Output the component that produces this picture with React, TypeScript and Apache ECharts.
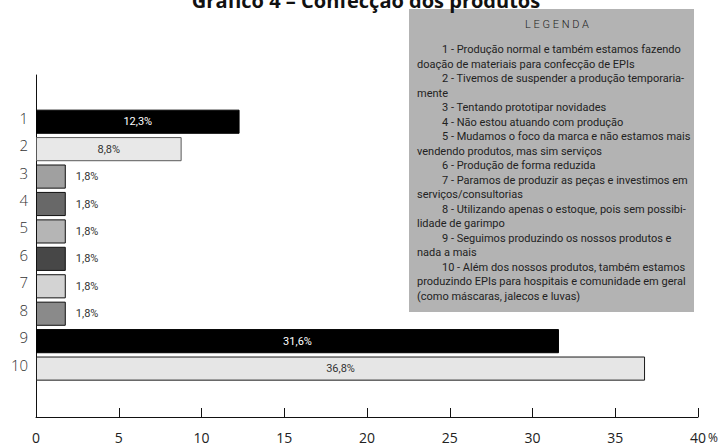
import React, { useEffect, useRef } from "react";
import * as echarts from "echarts";

// Survey answers: share of respondents per option (%)
const categories = ["1", "2", "3", "4", "5", "6", "7", "8", "9", "10"];
const values = [12.3, 8.8, 1.8, 1.8, 1.8, 1.8, 1.8, 1.8, 31.6, 36.8];
const barColors = ["#000000", "#e8e8e8", "#a0a0a0", "#686868", "#b5b5b5", "#474747", "#d3d3d3", "#8a8a8a", "#000000", "#e6e6e6"];
const borderColors = ["#000000", "#5a5a5a", "#111111", "#111111", "#111111", "#111111", "#111111", "#111111", "#000000", "#1a1a1a"];
const labelColors = ["#ffffff", "#333333", "#333333", "#333333", "#333333", "#333333", "#333333", "#333333", "#ffffff", "#333333"];
const xTicks = { min: 0, max: 40, interval: 5 };
const xUnit = "%";

const title = "Gráfico 4 – Confecção dos produtos";
const legendTitle = "L E G E N D A";
// Each legend entry: first line indented, continuation lines flush left
const legendEntries: string[][] = [
  ["1 - Produção normal e também estamos fazendo", "doação de materiais para confecção de EPIs"],
  ["2 - Tivemos de suspender a produção temporaria-", "mente"],
  ["3 - Tentando prototipar novidades"],
  ["4 - Não estou atuando com produção"],
  ["5 - Mudamos o foco da marca e não estamos mais", "vendendo produtos, mas sim serviços"],
  ["6 - Produção de forma reduzida"],
  ["7 - Paramos de produzir as peças e investimos em", "serviços/consultorias"],
  ["8 - Utilizando apenas o estoque, pois sem possibi-", "lidade de garimpo"],
  ["9 - Seguimos produzindo os nossos produtos e", "nada a mais"],
  ["10 - Além dos nossos produtos, também estamos", "produzindo EPIs para hospitais e comunidade em geral", "(como máscaras, jalecos e luvas)"],
];

const fmt = (v: number) => v.toFixed(1).replace(".", ",") + "%";

export default function App() {
  const ref = useRef<HTMLDivElement>(null);

  useEffect(() => {
    document.body.style.margin = "0";
    if (!ref.current) return;
    const chart = echarts.init(ref.current, null, { renderer: "svg" });

    const legendFont = "Roboto, 'Noto Sans', sans-serif";
    const legendLines: any[] = [];
    let row = 0;
    legendEntries.forEach((entry) => {
      entry.forEach((line, j) => {
        legendLines.push({
          type: "text",
          x: j === 0 ? 442 : 417,
          y: 49.5 + row * 14.5,
          style: {
            text: line,
            fill: "#222",
            font: `400 11px ${legendFont}`,
            verticalAlign: "middle",
          },
        });
        row++;
      });
    });

    chart.setOption({
      animation: false,
      backgroundColor: "#ffffff",
      grid: [
        { left: 36, right: 23, top: 108, height: 274.3 },
        { left: 36, right: 23, top: 75, bottom: 31 },
      ],
      xAxis: [
        { gridIndex: 0, type: "value", ...xTicks, show: false },
        {
          gridIndex: 1,
          type: "value",
          ...xTicks,
          axisLine: { show: true, lineStyle: { color: "#111", width: 1 } },
          axisTick: { show: true, inside: true, length: 9, lineStyle: { color: "#111" } },
          splitLine: { show: false },
          axisLabel: {
            margin: 13,
            color: "#222",
            fontSize: 14,
            fontFamily: "'Open Sans', sans-serif",
          },
        },
      ],
      yAxis: [
        {
          gridIndex: 0,
          type: "category",
          data: categories,
          inverse: true,
          axisLine: { show: false },
          axisTick: { show: false },
          axisLabel: {
            margin: 8,
            color: "#333",
            fontSize: 15,
            fontWeight: 300,
            fontFamily: "'Open Sans', sans-serif",
            verticalAlign: "bottom",
            lineHeight: 8,
          },
        },
        {
          gridIndex: 1,
          type: "value",
          min: 0,
          max: 1,
          axisLine: { show: true, lineStyle: { color: "#111", width: 1 } },
          axisTick: { show: false },
          axisLabel: { show: false },
          splitLine: { show: false },
        },
      ],
      series: [
        {
          type: "bar",
          xAxisIndex: 0,
          yAxisIndex: 0,
          barCategoryGap: "12%",
          data: values.map((v, i) => ({
            value: v,
            itemStyle: { color: barColors[i], borderColor: borderColors[i], borderWidth: 1 },
            label: {
              show: true,
              position: v > 5 ? "inside" : "right",
              distance: 10,
              formatter: () => fmt(v),
              color: labelColors[i],
              fontSize: 11,
              fontFamily: "Roboto, sans-serif",
            },
          })),
        },
      ],
      graphic: [
        {
          type: "text",
          x: 366,
          y: 0,
          style: {
            text: title,
            fill: "#111",
            font: "700 20px 'Open Sans', sans-serif",
            align: "center",
            verticalAlign: "middle",
          },
        },
        {
          type: "text",
          x: 708,
          y: 437,
          style: {
            text: xUnit,
            fill: "#222",
            font: "400 12px 'Open Sans', sans-serif",
            verticalAlign: "middle",
          },
        },
        {
          type: "rect",
          shape: { x: 409, y: 9, width: 285, height: 303 },
          style: { fill: "#b3b3b3" },
          z: -1,
        },
        {
          type: "text",
          x: 557,
          y: 24,
          style: {
            text: legendTitle,
            fill: "#222",
            font: `300 11px ${legendFont}`,
            align: "center",
            verticalAlign: "middle",
          },
        },
        ...legendLines,
      ],
    });

    return () => chart.dispose();
  }, []);

  return <div ref={ref} style={{ width: 721, height: 448 }} />;
}
